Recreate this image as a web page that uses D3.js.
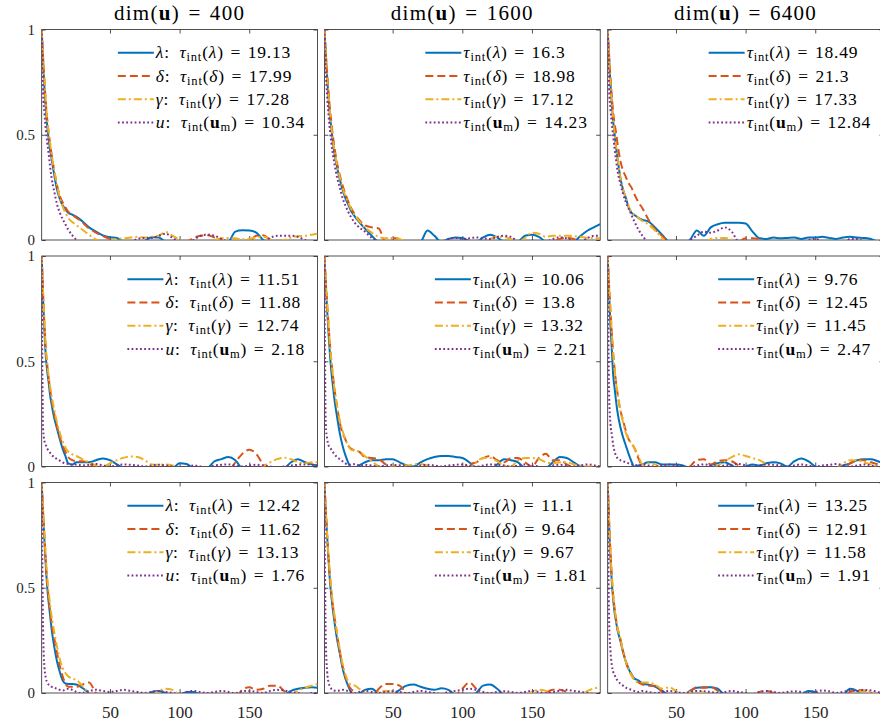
<!DOCTYPE html>
<html>
<head>
<meta charset="utf-8">
<script src="https://cdn.jsdelivr.net/npm/d3@7"></script>
<style>
body { margin: 0; background: #fff; }
</style>
</head>
<body>
<script>
// lags shared by every autocorrelation curve
var lags = [1,2,3,4,5,6,7,8,10,12,14,16,18,20,23,26,30,35,40,45,50,55,60,65,70,75,80,85,90,95,100,
  105,110,115,120,125,130,135,140,145,150,155,160,165,170,175,180,185,190,195,199];

var dims = [400, 1600, 6400];

// ---- row 1 ----
var lam11 = [1,.85,.72,.62,.54,.48,.43,.39,.31,.24,.195,.165,.145,.13,.12,.11,.09,
  .06,.04,.022,.013,.01,
  -.01,-.02,-.02,-.005,.013,.012,-.01,-.02,-.02,-.02,-.02,-.02,-.02,-.02,-.02,-.01,.04,.046,.045,.035,0,-.02,-.02,-.02,-.02,-.02,-.02,-.02,-.02];
var del11 = [1,.87,.75,.65,.57,.51,.46,.41,.33,.26,.21,.18,.155,.135,.12,.105,.085,
  .055,.035,.018,.005,-.01,
  -.02,-.02,-.02,-.02,-.02,-.02,-.02,-.02,-.02,-.01,.01,.02,.022,.012,0,-.02,-.02,-.02,-.01,.02,.022,0,-.02,-.02,-.02,-.02,-.02,-.02,-.02];
var gam11 = [1,.87,.75,.65,.57,.51,.46,.41,.33,.26,.2,.16,.13,.105,.085,.07,.05,
  .025,.003,-.01,-.005,.005,
  .008,.012,.015,.012,.015,.02,.038,.02,.003,-.01,-.02,-.02,-.01,0,.008,.01,.008,.003,.006,.012,.015,.005,-.005,0,.012,.018,.02,.025,.03];
var u11 = [1,.7,.6,.52,.46,.41,.35,.3,.23,.17,.13,.1,.075,.05,.022,0,-.02,
  -.02,-.02,-.02,-.02,-.02,
  -.02,-.01,.005,.01,.01,.02,.03,.01,-.01,-.02,0,.02,.025,.02,.005,-.01,-.02,-.02,-.02,-.02,-.01,.01,.02,.02,.02,.015,0,-.01,-.02];

var lam12 = [1,.88,.77,.67,.59,.53,.47,.42,.35,.29,.24,.2,.17,.14,.11,.085,.055,
  .02,-.01,-.02,-.02,-.02,
  -.02,-.02,-.01,.045,.02,-.01,.005,.012,.01,-.005,-.01,.012,.025,.012,-.01,-.02,-.01,.02,.025,.015,-.01,-.02,-.02,-.02,-.01,.02,.045,.062,.075];
var del12 = [1,.89,.79,.7,.62,.56,.5,.45,.37,.31,.26,.22,.185,.155,.12,.095,.07,
  .06,.055,-.01,.01,.005,
  -.02,-.02,-.02,-.02,-.02,-.02,-.02,-.02,-.02,-.02,-.02,-.02,-.02,-.02,-.02,-.02,-.02,-.02,-.02,-.02,-.02,-.01,.005,.01,.005,-.01,-.02,-.02,-.02];
var gam12 = [1,.88,.77,.68,.6,.54,.48,.43,.36,.3,.25,.21,.18,.15,.115,.09,.06,
  .035,.015,.008,.01,.005,
  -.01,-.02,-.02,-.02,-.02,-.02,-.01,-.005,-.005,-.01,-.02,-.01,.005,.015,.015,.005,-.01,.01,.035,.03,.015,.02,.02,.02,.018,.015,.01,.01,.008];
var u12 = [1,.8,.68,.59,.52,.46,.41,.37,.3,.25,.2,.165,.135,.11,.08,.06,.04,
  .01,-.005,-.01,-.02,-.02,
  -.02,-.02,-.02,-.02,-.02,-.01,.005,.01,.005,.008,.012,.008,.005,.015,.02,.015,-.01,-.02,-.02,-.02,-.01,.005,.012,.008,-.01,-.01,.01,.02,.02];

var lam13 = [1,.86,.74,.64,.56,.5,.44,.39,.3,.24,.2,.155,.13,.12,.105,.095,.088,
  .06,.025,-.01,-.02,-.02,
  0,.045,.02,.06,.075,.082,.082,.082,.078,.04,.008,.005,.012,.008,.01,.012,.005,.012,.012,.015,.01,.005,.012,.015,.012,.01,.005,-.01,-.02];
var del13 = [1,.88,.77,.68,.6,.55,.51,.46,.38,.33,.3,.27,.25,.22,.18,.15,.1,
  .05,.02,-.01,-.02,-.02,
  -.02,-.02,-.02,-.02,-.02,-.02,-.02,-.01,.008,.008,.005,-.01,-.02,-.02,-.02,-.02,-.02,-.02,-.02,-.02,-.02,-.02,-.02,-.02,-.02,-.02,-.02,-.02,-.02];
var gam13 = [1,.86,.74,.64,.56,.5,.44,.39,.3,.24,.2,.16,.135,.12,.105,.09,.075,
  .045,.01,-.02,-.02,-.02,
  -.02,-.02,-.02,.005,.01,.01,.003,-.01,-.01,-.02,-.02,-.02,-.02,-.02,-.02,-.02,-.02,-.02,-.02,-.02,-.02,-.02,-.02,-.02,-.02,-.02,-.02,-.02,-.02];
var u13 = [1,.72,.62,.55,.49,.43,.38,.33,.27,.22,.18,.15,.12,.09,.05,.02,-.01,
  -.02,-.02,-.02,-.02,-.02,
  0,.02,.04,.035,.045,.06,.04,-.01,-.02,-.02,-.02,-.02,-.02,-.02,-.02,-.02,-.02,0,.005,-.01,-.02,-.02,-.02,.005,.005,-.01,-.02,-.02,-.02];

// ---- row 2 ----
var lam21 = [1,.8,.64,.52,.45,.4,.34,.3,.23,.18,.13,.085,.05,.015,.01,.02,.02,
  .02,.03,.038,.03,.01,
  -.01,-.02,-.02,-.02,-.02,-.02,-.02,-.01,.015,.012,-.01,-.02,-.01,.025,.035,.045,.03,-.01,-.02,-.02,-.02,-.02,-.02,-.01,.02,.035,.02,.01,.005];
var del21 = [1,.82,.67,.55,.48,.42,.37,.32,.25,.19,.14,.1,.07,.045,.03,.025,.025,
  .015,-.01,-.02,-.02,-.02,
  -.02,-.02,-.02,-.02,-.02,-.02,-.02,-.02,-.02,-.02,-.02,-.02,-.02,-.02,-.01,-.02,.02,.06,.08,.06,.01,-.02,-.02,-.02,-.02,-.02,-.02,-.02,-.02];
var gam21 = [1,.83,.68,.56,.49,.43,.38,.34,.27,.21,.16,.12,.09,.07,.058,.05,.035,
  .02,.005,0,.015,.03,
  .042,.048,.045,.03,.01,.008,.01,.005,-.01,-.02,-.02,-.02,-.02,-.02,-.02,-.02,-.02,-.02,-.02,-.02,0,.02,.035,.042,.035,.02,.015,.02,.02];
var u21 = [1,.18,.12,.1,.085,.075,.065,.055,.045,.035,.028,.02,.015,.012,.008,.01,.005,
  .008,.012,.005,0,.005,.01,.008,.005,0,.005,.008,.005,0,-.005,0,.005,0,-.005,.005,.008,.01,.005,0,.005,.008,.005,0,-.005,0,.005,.008,.01,.008,.005];

var lam22 = [1,.86,.74,.63,.53,.45,.39,.33,.24,.16,.1,.055,.02,-.005,-.01,.005,.02,
  .03,.03,.035,.035,.02,
  .005,0,.02,.035,.045,.05,.05,.045,.04,.02,-.01,-.02,-.02,.01,.035,.03,.02,-.01,-.02,-.02,-.01,.02,.045,.04,.02,0,-.01,-.01,-.005];
var del22 = [1,.88,.77,.67,.58,.5,.44,.38,.29,.21,.16,.13,.1,.085,.075,.07,.045,
  .04,.035,.01,-.01,-.02,
  -.02,-.02,-.02,-.02,-.02,-.02,-.02,-.02,-.01,.01,.02,.04,.05,.03,.02,.04,.04,.02,0,.04,.06,.03,.03,.01,-.01,-.02,-.02,-.02,-.02];
var gam22 = [1,.88,.77,.67,.58,.5,.44,.38,.29,.22,.17,.13,.1,.08,.075,.07,.05,
  .025,0,-.01,0,.005,
  .005,.01,.012,.005,-.01,-.02,-.02,-.02,-.02,-.01,.02,.04,.04,.025,.005,0,.03,.04,.04,.035,.02,.015,.02,.02,.01,.005,0,0,0];
var u22 = [1,.2,.13,.1,.09,.08,.07,.06,.045,.035,.025,.015,.01,.008,.012,.005,.008,
  .005,0,.005,.008,.005,0,-.005,.005,.008,.005,0,.005,.008,.01,.005,0,.005,.01,.008,.005,0,.005,.01,.005,0,-.005,.005,.008,.005,0,.005,.01,.005,0];

var lam23 = [1,.82,.67,.55,.43,.37,.31,.26,.19,.14,.1,.06,.025,0,.005,.01,.02,
  .02,.01,.01,.01,.005,
  -.01,-.02,-.02,.005,.015,.02,.005,-.01,0,.01,.005,.015,.02,.015,0,.025,.038,.025,0,-.01,-.01,-.005,.005,.015,.03,.035,.035,.025,.015];
var del23 = [1,.86,.74,.63,.53,.46,.4,.35,.27,.22,.17,.13,.11,.09,.04,0,-.01,
  -.02,-.02,-.02,-.02,-.02,
  0,.03,.035,.01,.025,.03,.025,.005,-.01,-.02,-.02,-.02,-.02,-.02,-.02,-.02,-.02,-.02,-.02,-.02,-.02,-.02,-.01,.015,.03,.03,.02,.01,0];
var gam23 = [1,.86,.74,.63,.53,.46,.4,.35,.27,.21,.16,.13,.11,.09,.05,.01,.015,
  .01,-.01,-.02,-.02,-.02,
  -.02,-.02,-.02,-.01,.005,.025,.045,.058,.05,.04,.03,.01,-.01,-.02,-.02,-.02,-.02,-.02,-.02,-.02,-.02,-.01,.015,.03,.03,.02,.01,0,-.01];
var u23 = [1,.35,.2,.15,.1,.07,.05,.04,.03,.025,.02,.015,.01,.008,.005,.01,.005,
  0,.005,.01,.005,0,-.005,.005,.01,.005,0,.005,.008,.012,.005,0,.005,.01,.008,.005,0,.005,.01,.005,0,.005,.008,.012,.005,0,.005,.01,.005,0,0];

// ---- row 3 ----
var lam31 = [1,.85,.72,.6,.5,.43,.37,.31,.22,.15,.1,.06,.045,.043,.043,.04,.025,
  0,-.02,-.02,-.02,-.02,
  -.02,-.02,-.02,-.02,.005,.01,0,-.01,-.01,.005,.005,-.01,-.02,-.02,-.02,-.02,-.02,-.02,-.02,-.02,-.02,-.02,-.02,-.01,.01,.02,.025,.027,.025];
var del31 = [1,.86,.74,.62,.52,.45,.39,.34,.26,.19,.13,.08,.045,.03,.03,.03,.04,
  .05,0,-.02,-.02,-.02,
  -.02,-.02,-.02,-.02,-.02,-.02,-.02,-.02,-.02,-.02,-.02,-.02,-.02,-.02,-.02,-.02,-.02,.015,.027,.015,.02,.035,.035,.01,-.02,-.02,-.02,-.02,-.02];
var gam31 = [1,.87,.75,.64,.55,.48,.42,.37,.29,.22,.16,.12,.095,.08,.068,.062,.035,
  0,-.02,-.02,-.02,-.02,
  -.02,-.02,-.02,-.02,-.01,.01,.02,.015,-.01,-.02,-.02,-.02,-.02,-.02,-.02,-.02,-.02,-.02,-.02,-.02,-.02,-.02,-.02,-.02,-.01,.01,.025,.035,.043];
var u31 = [1,.3,.12,.07,.05,.04,.035,.03,.025,.02,.015,.012,.015,.02,.015,.005,0,
  .01,.015,.01,.005,.01,.015,.01,.005,0,.005,.01,.005,0,-.005,.005,.01,.005,0,.005,.01,.005,0,.008,.01,.005,0,.01,.015,.012,.005,0,-.005,0,0];

var lam32 = [1,.86,.74,.63,.53,.46,.4,.35,.26,.19,.12,.07,.035,.005,-.01,-.005,.015,
  .02,-.005,-.02,-.01,.015,
  .035,.04,.03,.02,.015,.022,.015,-.01,-.02,-.02,0,.035,.04,.02,-.01,-.02,-.02,-.02,-.02,-.02,-.02,-.02,-.02,-.02,-.02,-.02,-.02,-.02,-.02];
var del32 = [1,.87,.75,.64,.55,.48,.42,.37,.28,.2,.13,.08,.04,.02,.005,-.01,-.02,
  -.02,.02,.043,.043,.035,
  0,-.02,-.02,-.02,-.02,-.02,-.02,-.01,.02,.05,.02,-.02,-.02,-.02,-.02,-.02,-.02,-.02,-.02,-.02,0,.015,.015,.005,-.01,-.02,-.02,-.02,-.02];
var gam32 = [1,.87,.75,.65,.56,.49,.43,.38,.29,.21,.14,.09,.055,.04,.035,.02,.005,
  -.01,.005,.01,.005,-.01,
  -.02,-.02,-.02,-.02,-.02,-.02,-.02,-.02,-.02,-.02,-.02,-.02,-.02,-.02,-.02,-.02,-.02,-.01,.005,.015,.01,-.01,-.02,-.02,-.02,-.01,.01,.022,.028];
var u32 = [1,.25,.1,.05,.03,.02,.015,.012,.01,.012,.015,.012,.01,.005,0,.005,.01,
  .005,0,.005,.008,.005,0,.005,.01,.005,0,-.005,.005,.01,.015,.02,.015,.005,0,.005,.008,.005,0,.005,.01,.005,0,.005,.01,.015,.01,.005,0,-.005,0];

var lam33 = [1,.8,.64,.52,.44,.38,.34,.3,.25,.195,.15,.115,.09,.07,.06,.045,.04,
  .03,.01,-.01,-.02,-.02,
  .01,.025,.027,.027,.02,-.01,-.02,-.02,-.02,-.02,-.02,-.02,-.02,-.02,-.02,-.02,-.01,.01,.005,-.02,-.02,-.02,-.01,.02,.01,-.02,-.02,-.02,-.02];
var del33 = [1,.82,.67,.55,.46,.4,.35,.31,.26,.2,.15,.11,.085,.065,.05,.04,.035,
  .035,.005,-.02,-.02,-.02,
  .005,.028,.025,.028,.01,-.02,-.02,-.02,-.02,-.02,.005,.01,0,-.02,-.02,-.02,-.02,-.02,-.02,-.02,-.02,-.02,-.02,.005,.015,.012,0,-.02,-.02];
var gam33 = [1,.82,.67,.55,.46,.4,.35,.31,.26,.2,.15,.11,.085,.065,.05,.05,.05,
  .04,.02,.027,.01,-.01,
  .005,.01,0,-.02,-.02,-.02,-.02,-.02,-.02,-.02,-.02,-.02,-.02,-.02,-.02,-.02,-.02,-.02,-.02,-.02,-.02,-.02,-.02,-.01,.005,.01,.005,-.01,-.02];
var u33 = [1,.35,.2,.13,.1,.085,.07,.06,.045,.035,.025,.02,.015,.01,.005,.01,.005,
  0,.005,.01,.005,0,.005,.01,.008,.005,0,.005,.01,.005,0,-.005,.005,.01,.005,0,.005,.008,.005,0,.005,.012,.008,0,.005,.012,.01,.015,.012,.005,0];

// integrated autocorrelation times shown in the legends
var tau11 = ["19.13","17.99","17.28","10.34"], tau12 = ["16.3","18.98","17.12","14.23"], tau13 = ["18.49","21.3","17.33","12.84"];
var tau21 = ["11.51","11.88","12.74","2.18"], tau22 = ["10.06","13.8","13.32","2.21"], tau23 = ["9.76","12.45","11.45","2.47"];
var tau31 = ["12.42","11.62","13.13","1.76"], tau32 = ["11.1","9.64","9.67","1.81"], tau33 = ["13.25","12.91","11.58","1.91"];

var xTicks = [50, 100, 150];
var yTicks = [0, 0.5, 1];

var grid = [
  [[lam11, del11, gam11, u11], [lam12, del12, gam12, u12], [lam13, del13, gam13, u13]],
  [[lam21, del21, gam21, u21], [lam22, del22, gam22, u22], [lam23, del23, gam23, u23]],
  [[lam31, del31, gam31, u31], [lam32, del32, gam32, u32], [lam33, del33, gam33, u33]]
];
var taus = [[tau11, tau12, tau13], [tau21, tau22, tau23], [tau31, tau32, tau33]];

var colors = ["#0072BD", "#D95319", "#EDB120", "#7E2F8E"];
var dashes = [null, "8,4", "8,3,2,3", "1.8,2.4"];
var syms = ["λ", "δ", "γ", "u"];

var FONT = "'Liberation Serif', 'DejaVu Serif', serif";
var colLeft = [41.7, 324.4, 607.7];
var rowTop = [29.5, 256, 482.5];
var pw = 275.8, ph = 210.5;
var axisColor = "#262626";

var svg = d3.select("body").append("svg").attr("width", 880).attr("height", 725)
  .attr("font-family", FONT);
var defs = svg.append("defs");

// column titles: dim(u) = N
dims.forEach(function(d, c) {
  var t = svg.append("text")
    .attr("x", colLeft[c] + pw / 2).attr("y", 19.5)
    .attr("text-anchor", "middle").style("font-size", "21px")
    .style("letter-spacing", "1.3px").attr("fill", "#000");
  t.append("tspan").text("dim(");
  t.append("tspan").style("font-weight", "bold").text("u");
  t.append("tspan").text(")\u2004=\u2004" + d);
});

function addLabel(g, prefix, sym, val) {
  var t = g.append("text").style("font-size", "17.5px")
    .style("letter-spacing", "0.8px").attr("fill", "#000");
  if (prefix) {
    t.append("tspan").style("font-style", "italic").text(prefix);
    t.append("tspan").text(":\u2002");
  }
  t.append("tspan").style("font-style", "italic").text("τ");
  t.append("tspan").attr("dy", 3).style("font-size", "12.5px").text("int");
  t.append("tspan").attr("dy", -3).text("(");
  if (sym === "u") {
    t.append("tspan").style("font-weight", "bold").text("u");
    t.append("tspan").attr("dy", 3).style("font-size", "12.5px").text("m");
    t.append("tspan").attr("dy", -3).text(")");
  } else {
    t.append("tspan").style("font-style", "italic").text(sym);
    t.append("tspan").text(")");
  }
  t.append("tspan").text("\u2004=\u2004" + val);
  return t;
}

var line = d3.line().curve(d3.curveMonotoneX);

for (var r = 0; r < 3; r++) {
  for (var c = 0; c < 3; c++) {
    var x = d3.scaleLinear().domain([1, 199]).range([colLeft[c], colLeft[c] + pw]);
    var y = d3.scaleLinear().domain([0, 1]).range([rowTop[r] + ph, rowTop[r]]);
    var g = svg.append("g");

    // axes (ticks pointing inwards, box on)
    var ax = [
      d3.axisBottom(x).tickValues(xTicks).tickFormat(r === 2 ? d3.format("d") : ""),
      d3.axisTop(x).tickValues(xTicks).tickFormat(""),
      d3.axisLeft(y).tickValues(yTicks).tickFormat(c === 0 ? function(v) { return String(v); } : ""),
      d3.axisRight(y).tickValues(yTicks).tickFormat("")
    ];
    var pos = ["translate(0," + y(0) + ")", "translate(0," + y(1) + ")",
               "translate(" + x(1) + ",0)", "translate(" + x(199) + ",0)"];
    ax.forEach(function(a, i) {
      var ag = g.append("g").attr("transform", pos[i])
        .call(a.tickSizeInner(-4).tickSizeOuter(0).tickPadding(i === 0 ? 12.5 : 6.7));
      ag.attr("font-family", FONT).attr("font-size", i === 0 ? 17 : 15);
      ag.select(".domain").remove();
      ag.selectAll(".tick line").attr("stroke", axisColor).attr("stroke-width", 0.8);
      ag.selectAll("text").attr("fill", axisColor);
    });
    g.append("rect")
      .attr("x", x(1)).attr("y", y(1)).attr("width", pw).attr("height", ph)
      .attr("fill", "none").attr("stroke", axisColor).attr("stroke-width", 0.8);

    var clipId = "clip" + r + c;
    defs.append("clipPath").attr("id", clipId).append("rect")
      .attr("x", x(1)).attr("y", y(1)).attr("width", pw).attr("height", ph);

    var lg = g.append("g").attr("clip-path", "url(#" + clipId + ")");
    line.x(function(d) { return x(d[0]); }).y(function(d) { return y(d[1]); });
    grid[r][c].forEach(function(vals, k) {
      if (vals.length !== lags.length) throw new Error("panel " + r + c + " series " + k + " has " + vals.length);
      lg.append("path")
        .datum(lags.map(function(l, i) { return [l, vals[i]]; }))
        .attr("d", line)
        .attr("fill", "none")
        .attr("stroke", colors[k])
        .attr("stroke-width", 2)
        .attr("stroke-dasharray", dashes[k]);
    });

    // legend, anchored top-right, no box
    var leg = g.append("g");
    var texts = syms.map(function(s, k) {
      return addLabel(leg, c === 0 ? syms[k] : null, s, taus[r][c][k]);
    });
    var maxW = d3.max(texts, function(t) { return t.node().getBBox().width; });
    var tx = colLeft[c] + pw - 12.5 - maxW;
    texts.forEach(function(t, k) {
      var ly = rowTop[r] + 23.2 + k * 23.3;
      t.attr("x", tx).attr("y", ly + 5.5);
      leg.append("line")
        .attr("x1", tx - 38).attr("x2", tx - 2).attr("y1", ly).attr("y2", ly)
        .attr("stroke", colors[k]).attr("stroke-width", 2)
        .attr("stroke-dasharray", dashes[k]);
    });
  }
}
</script>
</body>
</html>
